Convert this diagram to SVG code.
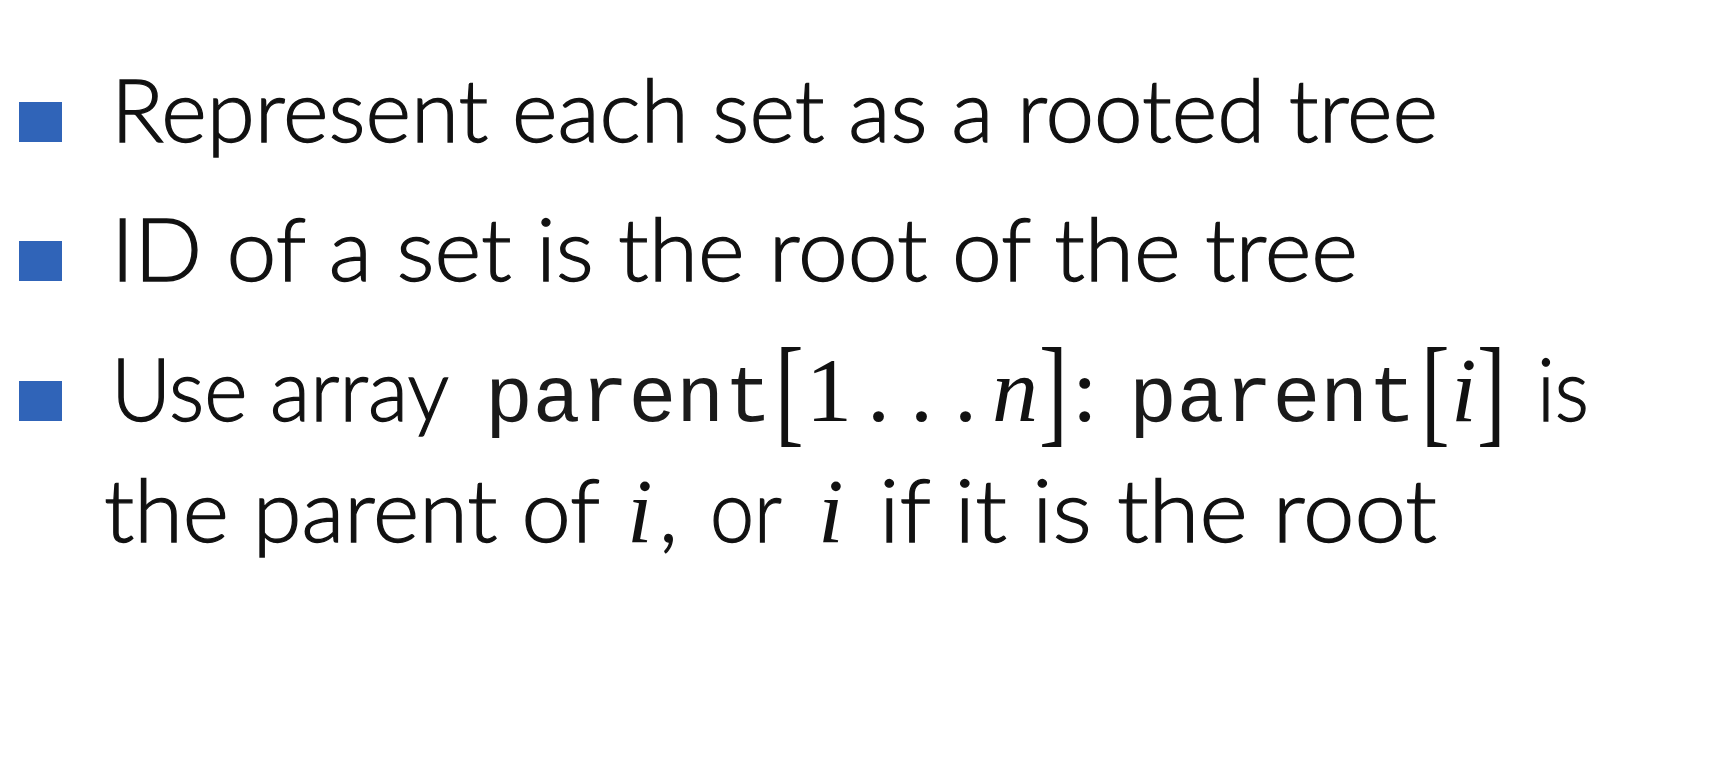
<svg xmlns="http://www.w3.org/2000/svg" width="1712" height="782" viewBox="0 0 1712 782">
  <style>
    .sans { font-family: "Lato", "Open Sans", "Liberation Sans", sans-serif; font-weight: 300; font-size: 86px; fill: #111; stroke: #111; stroke-width: 1.3px; }
    .mono { font-family: "Liberation Mono", "DejaVu Sans Mono", monospace; font-size: 79px; fill: #1a1a1a; }
    .rm { font-family: "Liberation Serif", "DejaVu Serif", serif; font-size: 92px; fill: #111; }
    .br { font-family: "Liberation Serif", "DejaVu Serif", serif; font-size: 86px; fill: #111; }
    .it { font-family: "Liberation Serif", "DejaVu Serif", serif; font-style: italic; font-size: 92px; fill: #111; }
    .bullet { fill: #3064b8; }
  </style>
  <rect width="1712" height="782" fill="#ffffff"/>

  <g id="item1">
    <rect class="bullet" x="19" y="102" width="43" height="40"/>
    <text class="sans" x="111" y="142" textLength="1327" lengthAdjust="spacingAndGlyphs">Represent each set as a rooted tree</text>
  </g>

  <g id="item2">
    <rect class="bullet" x="19" y="241" width="43" height="40"/>
    <text class="sans" x="111" y="281" textLength="1247" lengthAdjust="spacingAndGlyphs">ID of a set is the root of the tree</text>
  </g>

  <g id="item3">
    <rect class="bullet" x="19" y="381" width="43" height="40"/>
    <text class="sans" x="111" y="421" textLength="338" lengthAdjust="spacingAndGlyphs">Use array</text>
    <text class="mono" x="485" y="421" textLength="287" lengthAdjust="spacingAndGlyphs">parent</text>
    <text class="br" transform="translate(775,431) scale(1,1.4)">[</text>
    <text class="rm" x="806" y="421">1</text>
    <text class="rm" x="867" y="421">.</text>
    <text class="rm" x="910" y="421">.</text>
    <text class="rm" x="954" y="421">.</text>
    <text class="it" x="992" y="421">n</text>
    <text class="br" transform="translate(1039,431) scale(1,1.4)">]</text>
    <text class="rm" x="1072" y="421">:</text>
    <text class="mono" x="1129" y="421" textLength="287" lengthAdjust="spacingAndGlyphs">parent</text>
    <text class="br" transform="translate(1421,431) scale(1,1.4)">[</text>
    <text class="it" x="1451" y="421">i</text>
    <text class="br" transform="translate(1477,431) scale(1,1.4)">]</text>
    <text class="sans" x="1537" y="421" textLength="52" lengthAdjust="spacingAndGlyphs">is</text>

    <text class="sans" x="104" y="542" textLength="496" lengthAdjust="spacingAndGlyphs">the parent of</text>
    <text class="it" x="627" y="542">i</text>
    <text class="sans" x="659" y="542">,</text>
    <text class="sans" x="710" y="542" textLength="72" lengthAdjust="spacingAndGlyphs">or</text>
    <text class="it" x="818" y="542">i</text>
    <text class="sans" x="879" y="542" textLength="558" lengthAdjust="spacingAndGlyphs">if it is the root</text>
  </g>
</svg>
